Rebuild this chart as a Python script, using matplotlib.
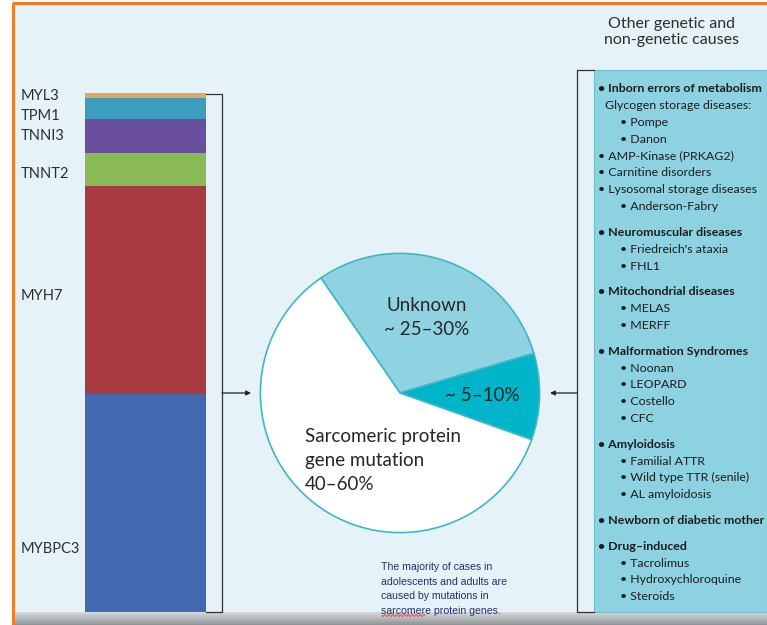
import matplotlib.pyplot as plt
import numpy as np
from matplotlib.patches import Rectangle
from matplotlib.colors import LinearSegmentedColormap

W, H = 767, 625

# Sarcomeric genes, stacked bottom-to-top (share of sarcomeric mutations, %)
genes = ["MYBPC3", "MYH7", "TNNT2", "TNNI3", "TPM1", "MYL3"]
gene_share = [42, 40, 6.5, 6.5, 4, 1]
gene_colors = ["#4469b0", "#a83b41", "#8aba56", "#6a4f9e", "#3e9dbd", "#e2a95e"]

# Pie of causes (clockwise from the top-left edge of "Unknown")
cause_labels = ["Unknown\n~ 25–30%", "~ 5–10%", "Sarcomeric protein\ngene mutation\n40–60%"]
cause_share = [30, 10, 60]
cause_colors = ["#8fd3e3", "#00b4c9", "#ffffff"]

# Other causes list: (text, bold, indent level)
other_causes = [
    ("• Inborn errors of metabolism", True, 0),
    ("Glycogen storage diseases:", False, 0.6),
    ("• Pompe", False, 2),
    ("• Danon", False, 2),
    ("• AMP-Kinase (PRKAG2)", False, 0),
    ("• Carnitine disorders", False, 0),
    ("• Lysosomal storage diseases", False, 0),
    ("• Anderson-Fabry", False, 2),
    None,
    ("• Neuromuscular diseases", True, 0),
    ("• Friedreich's ataxia", False, 2),
    ("• FHL1", False, 2),
    None,
    ("• Mitochondrial diseases", True, 0),
    ("• MELAS", False, 2),
    ("• MERFF", False, 2),
    None,
    ("• Malformation Syndromes", True, 0),
    ("• Noonan", False, 2),
    ("• LEOPARD", False, 2),
    ("• Costello", False, 2),
    ("• CFC", False, 2),
    None,
    ("• Amyloidosis", True, 0),
    ("• Familial ATTR", False, 2),
    ("• Wild type TTR (senile)", False, 2),
    ("• AL amyloidosis", False, 2),
    None,
    ("• Newborn of diabetic mother", True, 0),
    None,
    ("• Drug–induced", True, 0),
    ("• Tacrolimus", False, 2),
    ("• Hydroxychloroquine", False, 2),
    ("• Steroids", False, 2),
]

note = ("The majority of cases in\nadolescents and adults are\n"
        "caused by mutations in\nsarcomere protein genes.")

FONT = "Lato"


def frac(x0, y0, x1, y1):
    """pixel box (top-left origin) -> figure fraction rect"""
    return [x0 / W, 1 - y1 / H, (x1 - x0) / W, (y1 - y0) / H]


fig = plt.figure(figsize=(W / 100, H / 100), dpi=100)

# ---- background canvas in pixel units
bg = fig.add_axes([0, 0, 1, 1], zorder=0)
bg.set_xlim(0, W)
bg.set_ylim(H, 0)
bg.axis("off")
bg.add_patch(Rectangle((0, 0), W, H, color="white"))
bg.add_patch(Rectangle((13, 3), W - 13, H - 3, color="#e5f2f8"))
# shaded strip along the bottom
strip = LinearSegmentedColormap.from_list("strip", ["#d6dadc", "#b4b9bb", "#8e9396"])
grad = np.linspace(0, 1, 50)[:, None]
bg.imshow(grad, extent=[13, W, H, 612.5], cmap=strip, aspect="auto", zorder=1)
bg.plot([13, 13], [3, H], color="#ef7d2c", lw=2.2, solid_capstyle="butt", zorder=2)
bg.plot([12, W], [3.2, 3.2], color="#ef7d2c", lw=2.2, solid_capstyle="butt", zorder=2)

# ---- stacked gene bar
bx = fig.add_axes(frac(85, 93, 206, 612), zorder=2)
bottom = 0
for g, v, c in zip(genes, gene_share, gene_colors):
    bx.bar(0, v, bottom=bottom, width=1, color=c, linewidth=0)
    bottom += v
bx.set_xlim(-0.5, 0.5)
bx.set_ylim(0, sum(gene_share))
bx.axis("off")

gene_label_y = {"MYL3": 96, "TPM1": 116, "TNNI3": 136, "TNNT2": 174,
                "MYH7": 296, "MYBPC3": 549}
for g in genes:
    bg.text(21, gene_label_y[g], g, fontsize=10.5, family=FONT, color="#2e2e2e",
            va="center", ha="left")

# bracket + arrow from bar to pie
lk = dict(color="#333333", lw=0.9)
bg.plot([206, 222, 222, 206], [93.5, 93.5, 612, 612], **lk)
bg.annotate("", xy=(251, 393), xytext=(222, 393),
            arrowprops=dict(arrowstyle="-|>", color="#222222", lw=0.9,
                            mutation_scale=7, shrinkA=0, shrinkB=0))

# ---- pie
px = fig.add_axes(frac(259, 252, 541, 534), zorder=2)
wedges, _ = px.pie(cause_share, colors=cause_colors, startangle=124.5,
                   counterclock=False, radius=1,
                   wedgeprops=dict(edgecolor="#3fb7c7", linewidth=1.2))
px.set_xlim(-1.01, 1.01)
px.set_ylim(-1.01, 1.01)
px.set_aspect("equal")
px.axis("off")

tc = "#262626"
px.text(0.19, 0.54, cause_labels[0], fontsize=13.5, family=FONT, color=tc,
        ha="center", va="center", linespacing=1.45)
px.text(0.59, -0.02, cause_labels[1], fontsize=13.5, family=FONT, color=tc,
        ha="center", va="center")
px.text(-0.68, -0.48, cause_labels[2], fontsize=13.5, family=FONT, color=tc,
        ha="left", va="center", linespacing=1.5)

# ---- right panel
bg.text(672, 32, "Other genetic and\nnon-genetic causes", fontsize=11.5,
        family=FONT, color="#2e2e2e", ha="center", va="center", linespacing=1.15)
bg.add_patch(Rectangle((594, 70), W - 594, 612 - 70, facecolor="#8dd2e1",
                       edgecolor="#6fbccd", lw=0.8, zorder=2))
bg.plot([594, 577, 577, 594], [70, 70, 612, 612], **lk)
bg.annotate("", xy=(550, 393), xytext=(577, 393),
            arrowprops=dict(arrowstyle="-|>", color="#222222", lw=0.9,
                            mutation_scale=7, shrinkA=0, shrinkB=0))

y = 89
for item in other_causes:
    if item is None:
        y += 9
        continue
    txt, bold, lvl = item
    bg.text(598 + lvl * 11, y, txt, fontsize=8.9, family=FONT,
            fontweight="bold" if bold else "normal", color="#1c1c1c",
            va="center", ha="left", zorder=3)
    y += 16.8

# ---- note under the pie
bg.text(381, 589, note, fontsize=7.6, family="Liberation Sans", color="#26306e",
        va="center", ha="left", linespacing=1.55, zorder=3)
sq = np.linspace(382, 425, 60)
bg.plot(sq, 615.5 + 1.0 * np.sin((sq - 382) * 1.6), color="#d04040", lw=0.6, zorder=3)

fig.savefig("out.png", dpi=100)
